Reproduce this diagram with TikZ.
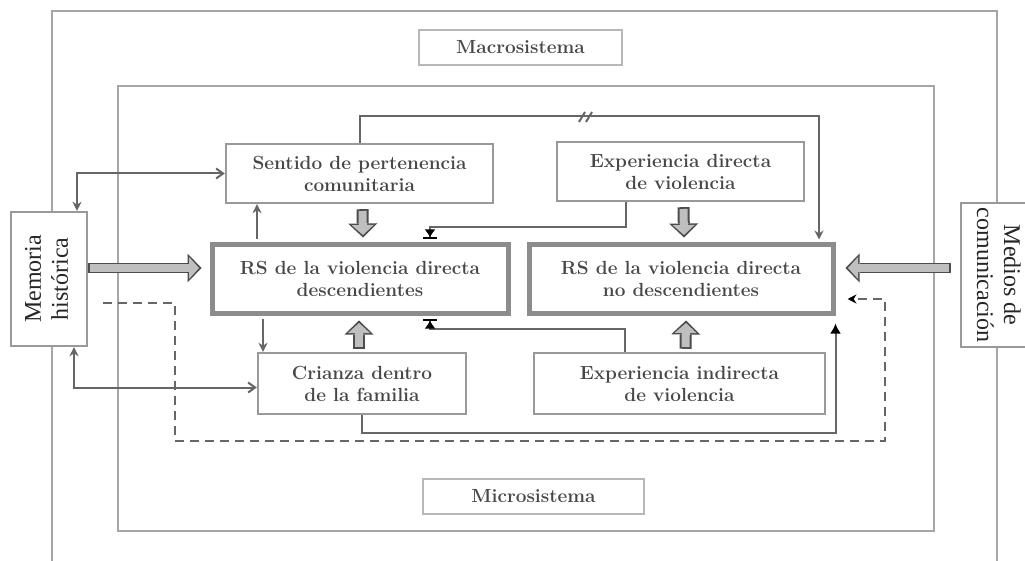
\documentclass[tikz,border=0pt]{standalone}
\usepackage{fontspec}
\usepackage{graphicx}
\newfontfamily\sidefont{Liberation Serif}
\usetikzlibrary{arrows.meta,calc}

\begin{document}
\begin{tikzpicture}[x=1pt,y=-1pt,
  box/.style={draw=black!40, line width=2.4pt, fill=white, text=black!72, font=\fontsize{19}{22}\selectfont\bfseries, align=center, inner sep=0pt},
  rsbox/.style={box, line width=5pt, draw=black!45},
  labelbox/.style={box, draw=black!28, line width=1.6pt},
  sidebox/.style={draw=black!40, line width=2.4pt, fill=white, text=black!85, font=\sidefont\fontsize{24}{27}\selectfont, inner sep=0pt},
  frame/.style={draw=black!35, line width=2.5pt},
  link/.style={draw=black!60, line width=2pt},
  tip/.style={-{Stealth[length=9pt,width=9pt]}},
  bartip/.style={-{Latex[black,length=8pt,width=11pt]Bar[black,width=14pt,line width=2pt]}},
  fat/.style={line width=12pt, draw=black!70, -{Triangle[length=14pt,width=29pt,line width=0pt]},
    postaction={draw=black!25, line width=8pt, shorten >=2.5pt, shorten <=1.8pt, -{Triangle[length=10pt,width=22pt,line width=0pt]}}}]
\useasboundingbox (0,0) rectangle (1025,561);
\fill[white] (0,0) rectangle (1025,561);
\draw[frame] (52,600) -- (52,11) -- (997,11) -- (997,600);
\draw[frame] (118,86) rectangle (934,531);
\node[labelbox, minimum width=203pt, minimum height=35pt] (macro) at (520.5,47.5) {Macrosistema};
\node[labelbox, minimum width=221pt, minimum height=35pt] (micro) at (533.5,496.5) {Microsistema};
\node[sidebox, minimum width=76pt, minimum height=134pt] (memoria) at (49,279) {\rotatebox{90}{\begin{tabular}{@{}c@{}}Memoria\\histórica\end{tabular}}};
\node[sidebox, minimum width=70pt, minimum height=144pt] (medios) at (996,275) {\rotatebox{-90}{\begin{tabular}{@{}c@{}}Medios de\\comunicación\end{tabular}}};
\node[box, minimum width=267pt, minimum height=59pt] (sentido) at (359.5,173.5) {Sentido de pertenencia\\comunitaria};
\node[box, minimum width=247pt, minimum height=59pt] (expdir) at (680.5,171.5) {Experiencia directa\\de violencia};
\node[rsbox, minimum width=296pt, minimum height=68pt] (rsdesc) at (360,279) {RS de la violencia directa\\descendientes};
\node[rsbox, minimum width=304pt, minimum height=68pt] (rsno) at (681,279) {RS de la violencia directa\\no descendientes};
\node[box, minimum width=208pt, minimum height=61pt] (crianza) at (362,383.5) {Crianza dentro\\de la familia};
\node[box, minimum width=291pt, minimum height=61pt] (expind) at (679.5,383.5) {Experiencia indirecta\\de violencia};
\draw[fat] ($(sentido.south)+(3,5)$) -- ($(rsdesc.north)+(3,-5)$);
\draw[fat] ($(expdir.south)+(3,5)$) -- ($(rsno.north)+(3,-5)$);
\draw[fat] ($(crianza.north)+(-3,-3)$) -- ($(rsdesc.south)+(-1,5)$);
\draw[fat] ($(expind.north)+(6,-3)$) -- ($(rsno.south)+(5,5)$);
\draw[fat, line width=10pt, postaction={line width=6.5pt}] ($(memoria.east)+(0,-11)$) -- ($(rsdesc.west)+(-8,-11)$);
\draw[fat, line width=10pt, postaction={line width=6.5pt}] ($(medios.west)+(-9,-7)$) -- ($(rsno.east)+(10,-11)$);
\draw[link, {Stealth[length=9pt,width=9pt]}-{Straight Barb[length=7pt,width=10pt]}] ($(memoria.north)+(28,0)$) |- (sentido.west);
\draw[link, {Stealth[length=9pt,width=9pt]}-{Straight Barb[length=7pt,width=10pt]}] ($(memoria.south)+(25,0)$) |- ($(crianza.west)+(0,4)$);
\draw[link, tip] ($(rsdesc.north)+(-103,-3)$) -- ($(sentido.south)+(-102.5,0)$);
\draw[link, tip] ($(rsdesc.south)+(-97,3)$) -- ($(crianza.north)+(-99,0)$);
\draw[link, bartip] ($(expdir.south)+(-55,0)$) -- ++(0,25) -| ($(rsdesc.north)+(70,-3)$);
\draw[link, bartip] ($(expind.north)+(-55,0)$) -- ++(0,-23) -| ($(rsdesc.south)+(70,3)$);
\draw[link, -{Latex[black,length=10pt,width=11pt]}] (crianza.south) -- ++(0,18) -| ($(rsno.south east)+(0,8)$);
\draw[link, tip] (sentido.north) -- ++(0,-27) -| ($(rsno.north)+(138,-3)$);
\draw[link] (579,122) -- (585,112) (586,122) -- (592,112);
\draw[link, dash pattern=on 9pt off 6pt, -{Stealth[black,length=9pt,width=9pt]}] ($(memoria.east)+(15,24)$) -| (175,441) -| (885,299) -- ($(rsno.east)+(12,20)$);
\end{tikzpicture}
\end{document}
